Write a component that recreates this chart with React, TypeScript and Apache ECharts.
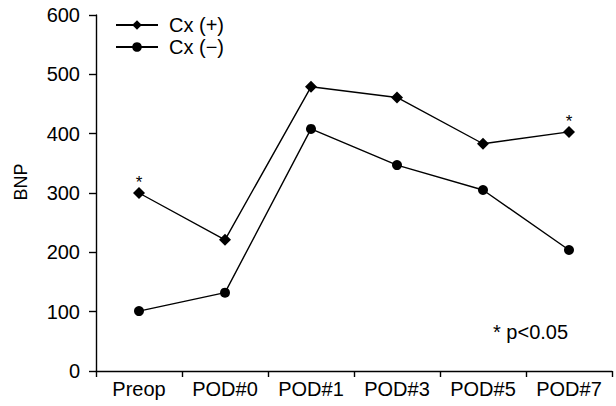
import React, { useEffect, useRef } from "react";
import * as echarts from "echarts";

const categories = ["Preop", "POD#0", "POD#1", "POD#3", "POD#5", "POD#7"];
const cxPlus = [300, 221, 479, 461, 383, 403];
const cxMinus = [101, 132, 408, 347, 305, 204];
const starIndices = [0, 5];
const yTicks = [0, 600, 100];

const FONT = "Liberation Sans, Arial, sans-serif";

export default function App() {
  const ref = useRef<HTMLDivElement>(null);
  useEffect(() => {
    if (!ref.current) return;
    const chart = echarts.init(ref.current, undefined, { renderer: "svg" });
    const plusData = cxPlus.map((v, i) =>
      starIndices.includes(i)
        ? {
            value: v,
            label: {
              show: true,
              position: "top",
              formatter: "*",
              distance: -4,
              color: "#000",
              fontSize: 17,
              fontFamily: FONT,
            },
          }
        : v
    );
    chart.setOption({
      animation: false,
      backgroundColor: "#fff",
      grid: { left: 96, right: 4, top: 15, bottom: 35 },
      legend: {
        left: 110,
        top: 10,
        orient: "vertical",
        itemWidth: 42,
        itemHeight: 12,
        itemGap: 2,
        textStyle: { fontSize: 20, fontFamily: FONT, color: "#000", padding: [0, 0, 0, 6] },
        data: ["Cx (+)", "Cx (\u2212)"],
      },
      xAxis: {
        type: "category",
        data: categories,
        boundaryGap: true,
        axisLine: { lineStyle: { color: "#000", width: 1.4 } },
        axisTick: { show: true, length: 6, alignWithLabel: false, lineStyle: { color: "#000", width: 1.4 } },
        axisLabel: { color: "#000", fontSize: 20, fontFamily: FONT, margin: 8, interval: 0 },
        splitLine: { show: false },
      },
      yAxis: {
        type: "value",
        min: yTicks[0],
        max: yTicks[1],
        interval: yTicks[2],
        name: "BNP",
        nameLocation: "middle",
        nameGap: 66,
        nameTextStyle: {
          color: "#000",
          fontSize: 18,
          fontFamily: FONT,
          padding: [0, 0, 0, 22],
        },
        axisLine: { show: true, lineStyle: { color: "#000", width: 1.4 } },
        axisTick: { show: true, length: 7, lineStyle: { color: "#000", width: 1.4 } },
        axisLabel: { color: "#000", fontSize: 20, fontFamily: FONT, margin: 16 },
        splitLine: { show: false },
      },
      series: [
        {
          name: "Cx (+)",
          type: "line",
          data: plusData,
          symbol: "diamond",
          symbolSize: 12,
          lineStyle: { color: "#000", width: 1.4 },
          itemStyle: { color: "#000" },
        },
        {
          name: "Cx (\u2212)",
          type: "line",
          data: cxMinus,
          symbol: "circle",
          symbolSize: 10,
          lineStyle: { color: "#000", width: 1.4 },
          itemStyle: { color: "#000" },
        },
      ],
      graphic: [
        {
          type: "text",
          x: 493,
          y: 332,
          style: {
            text: "* p<0.05",
            fontSize: 20,
            fontFamily: FONT,
            fill: "#000",
            align: "left",
            verticalAlign: "middle",
          },
        },
      ],
    });
    return () => chart.dispose();
  }, []);
  return (
    <div
      ref={ref}
      style={{ position: "absolute", left: 0, top: 0, width: 616, height: 406 }}
    />
  );
}
